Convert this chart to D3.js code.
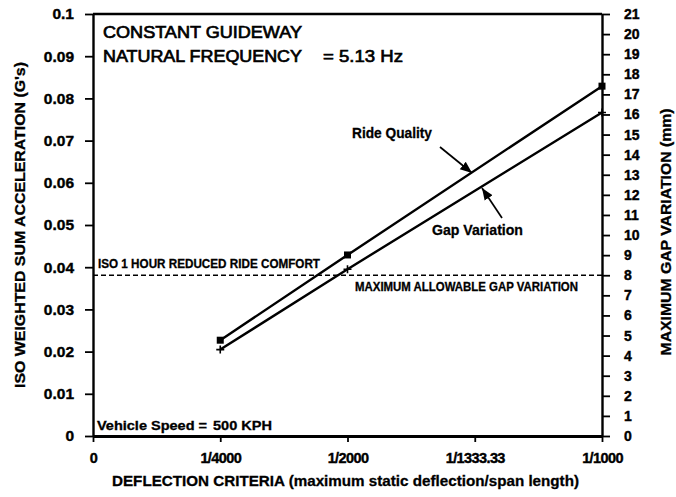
<!DOCTYPE html>
<html>
<head>
<meta charset="utf-8">
<script src="https://cdn.jsdelivr.net/npm/d3@7"></script>
<style>
  html, body { margin: 0; padding: 0; background: #fff; }
  svg { display: block; }
  text { font-family: "Liberation Sans", Arial, Helvetica, sans-serif; fill: #000; }
</style>
</head>
<body>
<svg id="chart" width="676" height="497"></svg>
<script>
// Deflection criteria (static deflection / span length)
const deflection = [1 / 4000, 1 / 2000, 1 / 1000];
const xTickValues = [0, 1 / 4000, 1 / 2000, 1 / 1333.33, 1 / 1000];
const xTickLabels = ["0", "1/4000", "1/2000", "1/1333.33", "1/1000"];

// ISO weighted sum acceleration (G's), left axis
const rideQuality = [0.0227, 0.0429, 0.0829];
// Maximum gap variation (mm), right axis
const gapVariation = [4.3, 8.3, 16.1];

// Reference limits
const gapLimitMm = 8;

const leftTicks = [0, 0.01, 0.02, 0.03, 0.04, 0.05, 0.06, 0.07, 0.08, 0.09, 0.1];
const leftTickLabels = ["0", "0.01", "0.02", "0.03", "0.04", "0.05", "0.06", "0.07", "0.08", "0.09", "0.1"];
const rightTicks = d3.range(0, 22);

const svg = d3.select("#chart");
const W = 676, H = 497;
const L = 93, R = 602, T = 14, B = 436;

svg.append("rect").attr("width", W).attr("height", H).attr("fill", "#fff");

const x = d3.scaleLinear().domain([0, 0.001]).range([L, R]);
const yL = d3.scaleLinear().domain([0, 0.1]).range([B, T]);
const yR = d3.scaleLinear().domain([0, 21]).range([B, T]);

// Arrowhead marker for the annotation leaders
const defs = svg.append("defs");
defs.append("marker")
  .attr("id", "arrow")
  .attr("viewBox", "0 0 10 10")
  .attr("refX", 10).attr("refY", 5)
  .attr("markerWidth", 7).attr("markerHeight", 7)
  .attr("markerUnits", "strokeWidth")
  .attr("orient", "auto")
  .append("path").attr("d", "M0,1 L10,5 L0,9 Z").attr("fill", "#000");

// Axes
const styleAxis = (g, fontSize) => {
  g.select(".domain").attr("stroke", "#000").attr("stroke-width", 2.4);
  g.selectAll(".tick line").attr("stroke", "#000").attr("stroke-width", 1.8);
  g.selectAll(".tick text")
    .attr("font-size", fontSize)
    .attr("font-weight", "bold")
    .attr("font-family", "'Liberation Sans', Arial, sans-serif")
    .attr("fill", "#000")
    .attr("stroke", "#000").attr("stroke-width", 0.4);
};

const gLeft = svg.append("g").attr("transform", `translate(${L},0)`)
  .call(d3.axisLeft(yL).tickValues(leftTicks)
    .tickFormat((d, i) => leftTickLabels[i])
    .tickSize(8).tickSizeOuter(0).tickPadding(11));
styleAxis(gLeft, 15.5);

const gRight = svg.append("g").attr("transform", `translate(${R},0)`)
  .call(d3.axisRight(yR).tickValues(rightTicks)
    .tickFormat(d3.format("d"))
    .tickSize(8).tickSizeOuter(0).tickPadding(14));
styleAxis(gRight, 14);

const gBottom = svg.append("g").attr("transform", `translate(0,${B})`)
  .call(d3.axisBottom(x).tickValues(xTickValues)
    .tickFormat((d, i) => xTickLabels[i])
    .tickSize(6).tickSizeOuter(0).tickPadding(11));
styleAxis(gBottom, 14.5);
gBottom.select(".domain").attr("stroke-width", 3);
gBottom.selectAll(".tick text").attr("letter-spacing", "-0.6");

// Top frame
svg.append("line")
  .attr("x1", L).attr("x2", R).attr("y1", T).attr("y2", T)
  .attr("stroke", "#000").attr("stroke-width", 2.4);

// Axis titles
svg.append("text")
  .attr("transform", `translate(25,225) rotate(-90)`)
  .attr("text-anchor", "middle")
  .attr("font-size", 14).attr("font-weight", "bold")
  .attr("stroke", "#000").attr("stroke-width", 0.3)
  .attr("textLength", 326).attr("lengthAdjust", "spacingAndGlyphs")
  .text("ISO WEIGHTED SUM ACCELERATION (G's)");

svg.append("text")
  .attr("transform", `translate(671,232) rotate(-90)`)
  .attr("text-anchor", "middle")
  .attr("font-size", 14).attr("font-weight", "bold")
  .attr("stroke", "#000").attr("stroke-width", 0.3)
  .attr("textLength", 247).attr("lengthAdjust", "spacingAndGlyphs")
  .text("MAXIMUM GAP VARIATION (mm)");

svg.append("text")
  .attr("x", 112).attr("y", 486)
  .attr("font-size", 15).attr("font-weight", "bold")
  .attr("stroke", "#000").attr("stroke-width", 0.3)
  .attr("textLength", 467).attr("lengthAdjust", "spacingAndGlyphs")
  .text("DEFLECTION CRITERIA (maximum static deflection/span length)");

// Gap-variation limit (dashed)
svg.append("line")
  .attr("x1", L).attr("x2", R)
  .attr("y1", yR(gapLimitMm)).attr("y2", yR(gapLimitMm))
  .attr("stroke", "#000").attr("stroke-width", 1.4)
  .attr("stroke-dasharray", "5,3");

svg.append("text")
  .attr("x", 98).attr("y", 268)
  .attr("font-size", 12).attr("font-weight", "bold")
  .attr("stroke", "#000").attr("stroke-width", 0.3)
  .attr("textLength", 222).attr("lengthAdjust", "spacingAndGlyphs")
  .text("ISO 1 HOUR REDUCED RIDE COMFORT");

svg.append("text")
  .attr("x", 355).attr("y", 291)
  .attr("font-size", 12).attr("font-weight", "bold")
  .attr("stroke", "#000").attr("stroke-width", 0.3)
  .attr("textLength", 223).attr("lengthAdjust", "spacingAndGlyphs")
  .text("MAXIMUM ALLOWABLE GAP VARIATION");

// Series lines
const rideLine = d3.line().x((d, i) => x(deflection[i])).y(d => yL(d));
const gapLine = d3.line().x((d, i) => x(deflection[i])).y(d => yR(d));

svg.append("path").datum(rideQuality)
  .attr("d", rideLine).attr("fill", "none")
  .attr("stroke", "#000").attr("stroke-width", 2.4);

svg.append("path").datum(gapVariation)
  .attr("d", gapLine).attr("fill", "none")
  .attr("stroke", "#000").attr("stroke-width", 2.4);

// Markers: filled squares for ride quality, plus signs for gap variation
svg.selectAll(".sq").data(rideQuality).join("rect")
  .attr("x", (d, i) => x(deflection[i]) - 3.5)
  .attr("y", d => yL(d) - 3.5)
  .attr("width", 7).attr("height", 7).attr("fill", "#000");

svg.selectAll(".pl").data(gapVariation).join("path")
  .attr("transform", (d, i) => `translate(${x(deflection[i])},${yR(d)})`)
  .attr("d", "M-4,0 H4 M0,-4 V4")
  .attr("stroke", "#000").attr("stroke-width", 1.6).attr("fill", "none");

// Series labels with leader arrows
svg.append("text")
  .attr("x", 352).attr("y", 138)
  .attr("font-size", 15).attr("font-weight", "bold")
  .attr("stroke", "#000").attr("stroke-width", 0.3)
  .attr("textLength", 80).attr("lengthAdjust", "spacingAndGlyphs")
  .text("Ride Quality");
svg.append("line")
  .attr("x1", 440).attr("y1", 147).attr("x2", 472).attr("y2", 173)
  .attr("stroke", "#000").attr("stroke-width", 1.7)
  .attr("marker-end", "url(#arrow)");

svg.append("text")
  .attr("x", 432).attr("y", 235)
  .attr("font-size", 15).attr("font-weight", "bold")
  .attr("stroke", "#000").attr("stroke-width", 0.3)
  .attr("textLength", 91).attr("lengthAdjust", "spacingAndGlyphs")
  .text("Gap Variation");
svg.append("line")
  .attr("x1", 502).attr("y1", 218).attr("x2", 482).attr("y2", 188)
  .attr("stroke", "#000").attr("stroke-width", 1.7)
  .attr("marker-end", "url(#arrow)");

// Header block
svg.append("text")
  .attr("x", 103).attr("y", 38)
  .attr("font-size", 17)
  .attr("textLength", 199).attr("lengthAdjust", "spacingAndGlyphs")
  .attr("stroke", "#000").attr("stroke-width", 0.7)
  .text("CONSTANT GUIDEWAY");
svg.append("text")
  .attr("x", 103).attr("y", 62)
  .attr("font-size", 17)
  .attr("textLength", 199).attr("lengthAdjust", "spacingAndGlyphs")
  .attr("stroke", "#000").attr("stroke-width", 0.7)
  .text("NATURAL FREQUENCY");
svg.append("text")
  .attr("x", 323).attr("y", 62)
  .attr("font-size", 17)
  .attr("textLength", 80).attr("lengthAdjust", "spacingAndGlyphs")
  .attr("stroke", "#000").attr("stroke-width", 0.7)
  .text("= 5.13 Hz");

// Operating speed note
svg.append("text")
  .attr("x", 97).attr("y", 430)
  .attr("font-size", 12).attr("font-weight", "bold")
  .attr("stroke", "#000").attr("stroke-width", 0.3)
  .attr("textLength", 110).attr("lengthAdjust", "spacingAndGlyphs")
  .text("Vehicle Speed =");
svg.append("text")
  .attr("x", 213).attr("y", 430)
  .attr("font-size", 13).attr("font-weight", "bold")
  .attr("stroke", "#000").attr("stroke-width", 0.3)
  .attr("textLength", 59).attr("lengthAdjust", "spacingAndGlyphs")
  .text("500 KPH");
</script>
</body>
</html>
